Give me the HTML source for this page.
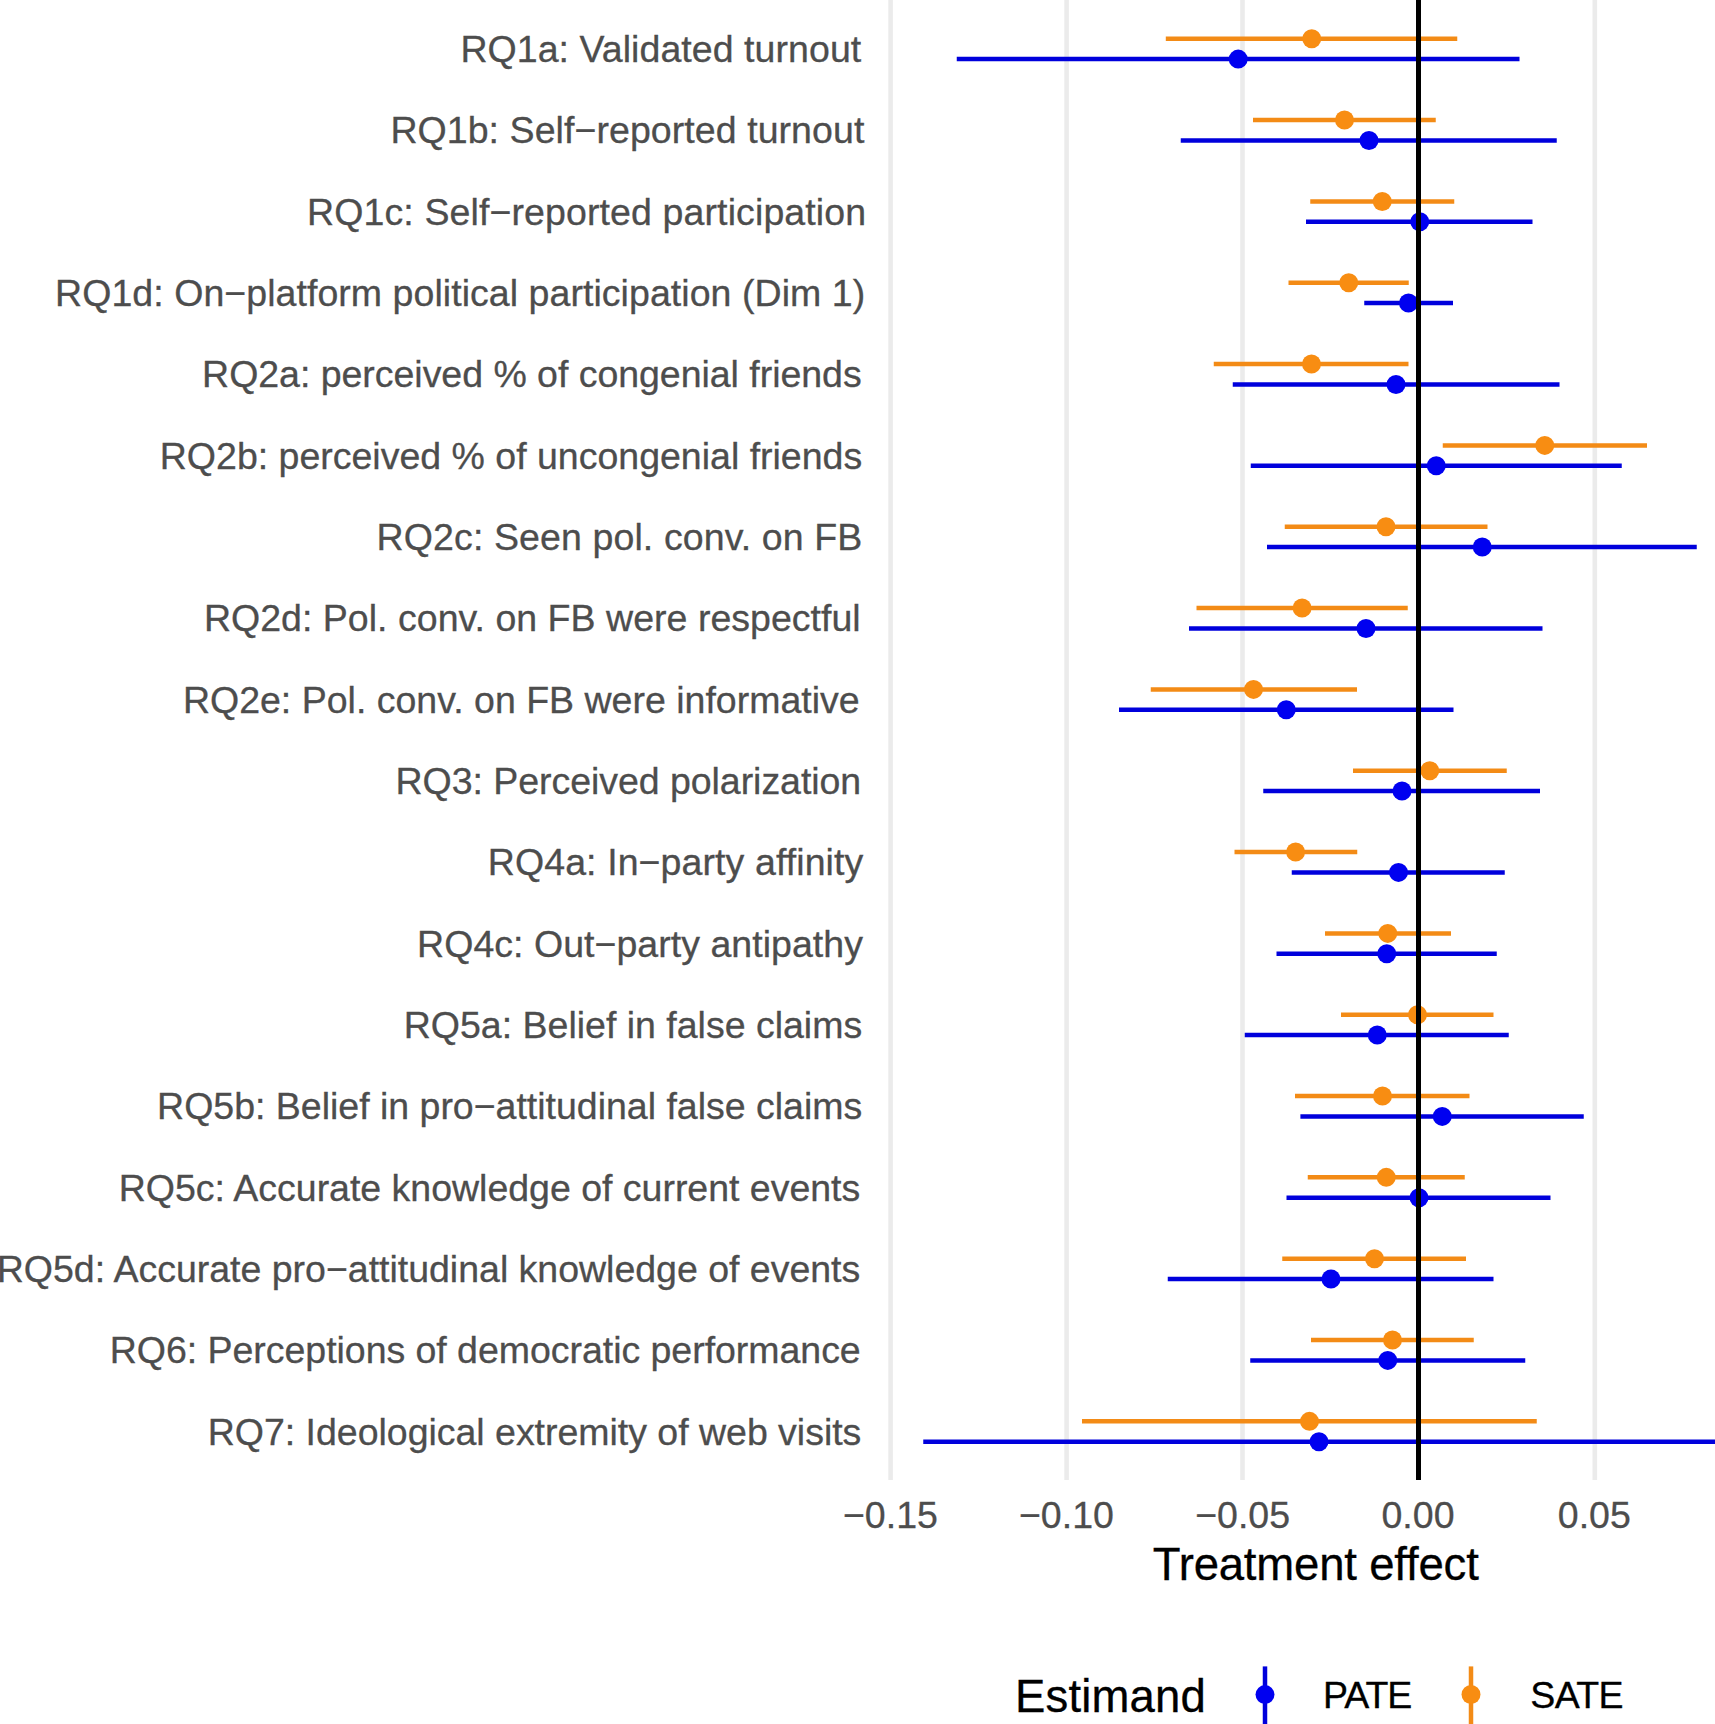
<!DOCTYPE html>
<html><head><meta charset="utf-8"><title>Treatment effects</title>
<style>
html,body{margin:0;padding:0;background:#fff;}
body{width:1715px;height:1724px;overflow:hidden;}
svg{display:block;font-family:"Liberation Sans",Arial,Helvetica,sans-serif;}
.yl{font-size:37.5px;fill:#4D4D4D;stroke:#4D4D4D;stroke-width:0.3px;}
.xl{font-size:37.5px;fill:#4D4D4D;stroke:#4D4D4D;stroke-width:0.3px;text-anchor:middle;}
.at{font-size:45.5px;fill:#000;stroke:#000;stroke-width:0.3px;}
.lt{font-size:37.5px;fill:#000;stroke:#000;stroke-width:0.3px;}
</style></head><body>
<svg width="1715" height="1724" viewBox="0 0 1715 1724">
<rect width="1715" height="1724" fill="#fff"/>

<line x1="890.6" x2="890.6" y1="0" y2="1480" stroke="#EBEBEB" stroke-width="4.6"/>
<line x1="1066.6" x2="1066.6" y1="0" y2="1480" stroke="#EBEBEB" stroke-width="4.6"/>
<line x1="1242.5" x2="1242.5" y1="0" y2="1480" stroke="#EBEBEB" stroke-width="4.6"/>
<line x1="1594.8" x2="1594.8" y1="0" y2="1480" stroke="#EBEBEB" stroke-width="4.6"/>
<line x1="1165.8" x2="1457.25" y1="38.75" y2="38.75" stroke="#F38B16" stroke-width="4.5"/>
<circle cx="1311.75" cy="38.75" r="9.5" fill="#F88D12"/>
<line x1="956.75" x2="1519.5" y1="59.10" y2="59.10" stroke="#0000DC" stroke-width="4.5"/>
<circle cx="1238.2" cy="59.10" r="9.5" fill="#0000F0"/>
<line x1="1253" x2="1435.75" y1="120.08" y2="120.08" stroke="#F38B16" stroke-width="4.5"/>
<circle cx="1344.5" cy="120.08" r="9.5" fill="#F88D12"/>
<line x1="1180.75" x2="1556.75" y1="140.43" y2="140.43" stroke="#0000DC" stroke-width="4.5"/>
<circle cx="1369" cy="140.43" r="9.5" fill="#0000F0"/>
<line x1="1310.25" x2="1454.25" y1="201.41" y2="201.41" stroke="#F38B16" stroke-width="4.5"/>
<circle cx="1382.25" cy="201.41" r="9.5" fill="#F88D12"/>
<line x1="1306" x2="1532.5" y1="221.76" y2="221.76" stroke="#0000DC" stroke-width="4.5"/>
<circle cx="1419.75" cy="221.76" r="9.5" fill="#0000F0"/>
<line x1="1288.5" x2="1408.75" y1="282.74" y2="282.74" stroke="#F38B16" stroke-width="4.5"/>
<circle cx="1348.75" cy="282.74" r="9.5" fill="#F88D12"/>
<line x1="1364.25" x2="1453" y1="303.09" y2="303.09" stroke="#0000DC" stroke-width="4.5"/>
<circle cx="1408.5" cy="303.09" r="9.5" fill="#0000F0"/>
<line x1="1213.75" x2="1408.5" y1="364.07" y2="364.07" stroke="#F38B16" stroke-width="4.5"/>
<circle cx="1311.5" cy="364.07" r="9.5" fill="#F88D12"/>
<line x1="1232.75" x2="1559.5" y1="384.42" y2="384.42" stroke="#0000DC" stroke-width="4.5"/>
<circle cx="1396" cy="384.42" r="9.5" fill="#0000F0"/>
<line x1="1442.75" x2="1647" y1="445.40" y2="445.40" stroke="#F38B16" stroke-width="4.5"/>
<circle cx="1544.75" cy="445.40" r="9.5" fill="#F88D12"/>
<line x1="1250.75" x2="1621.75" y1="465.75" y2="465.75" stroke="#0000DC" stroke-width="4.5"/>
<circle cx="1436.25" cy="465.75" r="9.5" fill="#0000F0"/>
<line x1="1284.75" x2="1487.5" y1="526.73" y2="526.73" stroke="#F38B16" stroke-width="4.5"/>
<circle cx="1386" cy="526.73" r="9.5" fill="#F88D12"/>
<line x1="1267" x2="1696.75" y1="547.08" y2="547.08" stroke="#0000DC" stroke-width="4.5"/>
<circle cx="1482.25" cy="547.08" r="9.5" fill="#0000F0"/>
<line x1="1196.5" x2="1407.75" y1="608.06" y2="608.06" stroke="#F38B16" stroke-width="4.5"/>
<circle cx="1302.1" cy="608.06" r="9.5" fill="#F88D12"/>
<line x1="1189" x2="1542.5" y1="628.41" y2="628.41" stroke="#0000DC" stroke-width="4.5"/>
<circle cx="1366" cy="628.41" r="9.5" fill="#0000F0"/>
<line x1="1150.75" x2="1357" y1="689.39" y2="689.39" stroke="#F38B16" stroke-width="4.5"/>
<circle cx="1253.5" cy="689.39" r="9.5" fill="#F88D12"/>
<line x1="1119" x2="1453.5" y1="709.74" y2="709.74" stroke="#0000DC" stroke-width="4.5"/>
<circle cx="1286.25" cy="709.74" r="9.5" fill="#0000F0"/>
<line x1="1353" x2="1506.75" y1="770.72" y2="770.72" stroke="#F38B16" stroke-width="4.5"/>
<circle cx="1429.75" cy="770.72" r="9.5" fill="#F88D12"/>
<line x1="1263.25" x2="1540" y1="791.07" y2="791.07" stroke="#0000DC" stroke-width="4.5"/>
<circle cx="1402" cy="791.07" r="9.5" fill="#0000F0"/>
<line x1="1234.5" x2="1357.25" y1="852.05" y2="852.05" stroke="#F38B16" stroke-width="4.5"/>
<circle cx="1295.6" cy="852.05" r="9.5" fill="#F88D12"/>
<line x1="1291.75" x2="1504.75" y1="872.40" y2="872.40" stroke="#0000DC" stroke-width="4.5"/>
<circle cx="1398.5" cy="872.40" r="9.5" fill="#0000F0"/>
<line x1="1325" x2="1451" y1="933.38" y2="933.38" stroke="#F38B16" stroke-width="4.5"/>
<circle cx="1387.75" cy="933.38" r="9.5" fill="#F88D12"/>
<line x1="1276.5" x2="1496.75" y1="953.73" y2="953.73" stroke="#0000DC" stroke-width="4.5"/>
<circle cx="1386.75" cy="953.73" r="9.5" fill="#0000F0"/>
<line x1="1341" x2="1493.5" y1="1014.71" y2="1014.71" stroke="#F38B16" stroke-width="4.5"/>
<circle cx="1417.5" cy="1014.71" r="9.5" fill="#F88D12"/>
<line x1="1244.75" x2="1508.75" y1="1035.06" y2="1035.06" stroke="#0000DC" stroke-width="4.5"/>
<circle cx="1377.25" cy="1035.06" r="9.5" fill="#0000F0"/>
<line x1="1295" x2="1469.5" y1="1096.04" y2="1096.04" stroke="#F38B16" stroke-width="4.5"/>
<circle cx="1382.5" cy="1096.04" r="9.5" fill="#F88D12"/>
<line x1="1300.4" x2="1583.75" y1="1116.39" y2="1116.39" stroke="#0000DC" stroke-width="4.5"/>
<circle cx="1442.25" cy="1116.39" r="9.5" fill="#0000F0"/>
<line x1="1307.75" x2="1464.75" y1="1177.37" y2="1177.37" stroke="#F38B16" stroke-width="4.5"/>
<circle cx="1386.25" cy="1177.37" r="9.5" fill="#F88D12"/>
<line x1="1286.5" x2="1550.5" y1="1197.72" y2="1197.72" stroke="#0000DC" stroke-width="4.5"/>
<circle cx="1419" cy="1197.72" r="9.5" fill="#0000F0"/>
<line x1="1282.25" x2="1466" y1="1258.70" y2="1258.70" stroke="#F38B16" stroke-width="4.5"/>
<circle cx="1374.5" cy="1258.70" r="9.5" fill="#F88D12"/>
<line x1="1167.75" x2="1493.5" y1="1279.05" y2="1279.05" stroke="#0000DC" stroke-width="4.5"/>
<circle cx="1331" cy="1279.05" r="9.5" fill="#0000F0"/>
<line x1="1311" x2="1473.75" y1="1340.03" y2="1340.03" stroke="#F38B16" stroke-width="4.5"/>
<circle cx="1392.5" cy="1340.03" r="9.5" fill="#F88D12"/>
<line x1="1250.25" x2="1525.25" y1="1360.38" y2="1360.38" stroke="#0000DC" stroke-width="4.5"/>
<circle cx="1387.75" cy="1360.38" r="9.5" fill="#0000F0"/>
<line x1="1082" x2="1536.75" y1="1421.36" y2="1421.36" stroke="#F38B16" stroke-width="4.5"/>
<circle cx="1309.5" cy="1421.36" r="9.5" fill="#F88D12"/>
<line x1="923.25" x2="1730" y1="1441.71" y2="1441.71" stroke="#0000DC" stroke-width="4.5"/>
<circle cx="1319" cy="1441.71" r="9.5" fill="#0000F0"/>
<line x1="1418.5" x2="1418.5" y1="0" y2="1480" stroke="#000" stroke-width="5"/>
<text class="yl" x="460.38" y="62.10" textLength="400.83">RQ1a: Validated turnout</text>
<text class="yl" x="390.38" y="143.43" textLength="473.93">RQ1b: Self−reported turnout</text>
<text class="yl" x="307.08" y="224.76" textLength="559.03">RQ1c: Self−reported participation</text>
<text class="yl" x="55.08" y="306.09" textLength="810.11">RQ1d: On−platform political participation (Dim 1)</text>
<text class="yl" x="202.08" y="387.42" textLength="659.61">RQ2a: perceived % of congenial friends</text>
<text class="yl" x="159.78" y="468.75" textLength="702.40">RQ2b: perceived % of uncongenial friends</text>
<text class="yl" x="376.58" y="550.08" textLength="485.73">RQ2c: Seen pol. conv. on FB</text>
<text class="yl" x="203.88" y="631.41" textLength="656.83">RQ2d: Pol. conv. on FB were respectful</text>
<text class="yl" x="182.88" y="712.74" textLength="676.80">RQ2e: Pol. conv. on FB were informative</text>
<text class="yl" x="395.58" y="794.07" textLength="465.63">RQ3: Perceived polarization</text>
<text class="yl" x="487.78" y="875.40" textLength="375.52">RQ4a: In−party affinity</text>
<text class="yl" x="417.08" y="956.73" textLength="445.86">RQ4c: Out−party antipathy</text>
<text class="yl" x="403.78" y="1038.06" textLength="458.40">RQ5a: Belief in false claims</text>
<text class="yl" x="157.08" y="1119.39" textLength="705.11">RQ5b: Belief in pro−attitudinal false claims</text>
<text class="yl" x="118.78" y="1200.72" textLength="741.49">RQ5c: Accurate knowledge of current events</text>
<text class="yl" x="-3.22" y="1282.05" textLength="863.50">RQ5d: Accurate pro−attitudinal knowledge of events</text>
<text class="yl" x="109.78" y="1363.38" textLength="750.92">RQ6: Perceptions of democratic performance</text>
<text class="yl" x="207.78" y="1444.71" textLength="653.56">RQ7: Ideological extremity of web visits</text>
<text class="xl" x="890.4" y="1528">−0.15</text>
<text class="xl" x="1066.4" y="1528">−0.10</text>
<text class="xl" x="1242.6" y="1528">−0.05</text>
<text class="xl" x="1418" y="1528">0.00</text>
<text class="xl" x="1594.3" y="1528">0.05</text>
<text class="at" x="1152.74" y="1580.00" textLength="326.06">Treatment effect</text>
<text class="at" x="1015.00" y="1712.00" textLength="190.81">Estimand</text>
<line x1="1265" x2="1265" y1="1666.4" y2="1730" stroke="#0000DC" stroke-width="4.5"/>
<circle cx="1265" cy="1694.6" r="9.5" fill="#0000F0"/>
<text class="lt" x="1323.07" y="1708.40" textLength="89.19">PATE</text>
<line x1="1471" x2="1471" y1="1666.4" y2="1730" stroke="#F38B16" stroke-width="4.5"/>
<circle cx="1471" cy="1694.5" r="9.5" fill="#F88D12"/>
<text class="lt" x="1530.26" y="1708.40" textLength="93.33">SATE</text>
</svg></body></html>
